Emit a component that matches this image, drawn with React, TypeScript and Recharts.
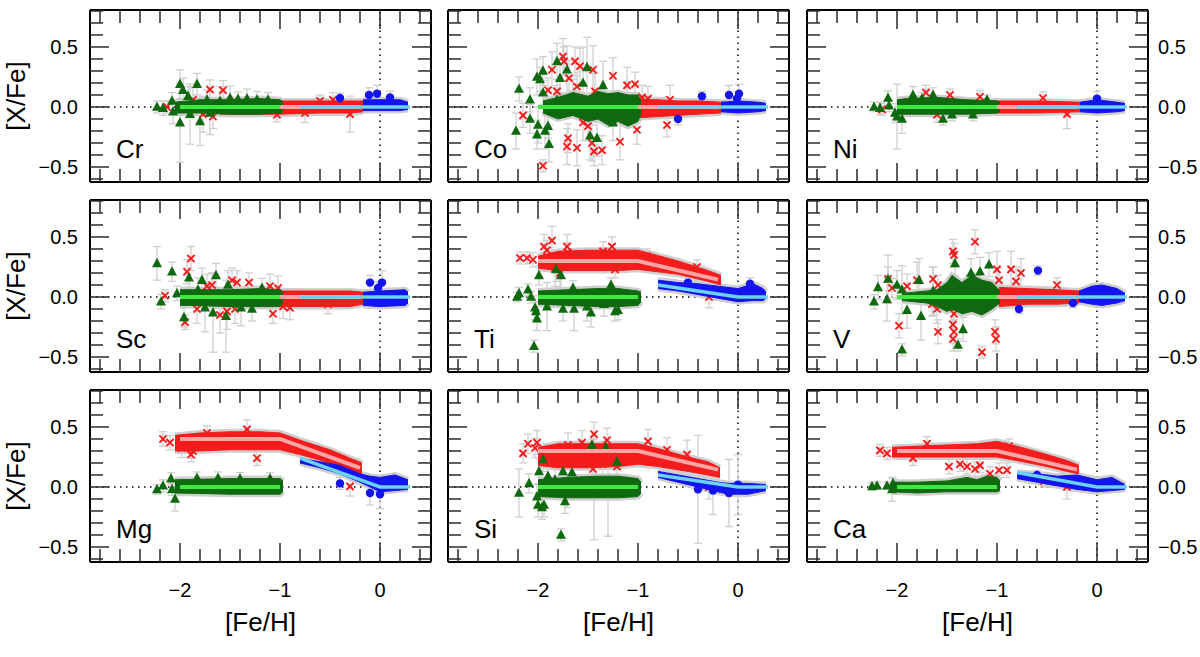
import React from "react";
import { ComposedChart, XAxis, YAxis, Scatter, Area, Line, ReferenceLine, ErrorBar } from "recharts";

// [Fe/H], [X/Fe], error
type Pt = [number, number, number];
// [Fe/H], low, high of the dense run of points
type Band = [number, number, number];
type Seg = [number, number];

const xTicks = [-2.8, -2.6, -2.4, -2.2, -2.0, -1.8, -1.6, -1.4, -1.2, -1.0, -0.8, -0.6, -0.4, -0.2, 0, 0.2, 0.4];
const yTicks = [-0.6, -0.5, -0.4, -0.3, -0.2, -0.1, 0, 0.1, 0.2, 0.3, 0.4, 0.5, 0.6, 0.7, 0.8];

// model lines
const flatG: Seg[] = [[-2, 0], [-1, 0]];
const flatR: Seg[] = [[-1, 0], [-0.2, 0]];
const flatB: Seg[] = [[-0.8, 0], [0.3, 0]];
const tiLineR: Seg[] = [[-2, 0.3], [-1, 0.3], [-0.2, 0.145]];
const tiLineB: Seg[] = [[-0.8, 0.1], [0, 0], [0.3, 0]];
const mgLineR: Seg[] = [[-2, 0.4], [-1, 0.4], [-0.2, 0.16]];
const mgLineB: Seg[] = [[-0.8, 0.24], [0, 0], [0.3, 0]];
const siLineR: Seg[] = [[-2, 0.3], [-1, 0.3], [-0.2, 0.145]];
const siLineB: Seg[] = [[-0.8, 0.1], [0, 0], [0.3, 0]];
const caLineR: Seg[] = [[-2, 0.3], [-1, 0.3], [-0.2, 0.145]];
const caLineB: Seg[] = [[-0.8, 0.12], [0, 0], [0.3, 0]];

// Cr
const crGreen: Pt[] = [[-2.23, 0.0, 0.05], [-2.17, -0.01, 0.06], [-2.08, 0.05, 0.07], [-2.07, -0.04, 0.1], [-2.0, 0.19, 0.12], [-1.97, 0.14, 0.1], [-1.92, 0.09, 0.08], [-1.83, 0.19, 0.09], [-1.73, 0.06, 0.08], [-2.0, -0.13, 0.33], [-1.8, -0.12, 0.2], [-1.5, 0.075, 0.1], [-1.33, 0.07, 0.08], [-1.23, 0.06, 0.07], [-1.9, -0.06, 0.25], [-1.7, -0.05, 0.18], [-1.6, 0.05, 0.12], [-1.42, 0.065, 0.06], [-1.12, 0.06, 0.06]];
const crGreenBand: Band[] = [[-2.05, -0.05, 0.04], [-1.8, -0.05, 0.06], [-1.5, -0.06, 0.06], [-1.2, -0.06, 0.07], [-1.0, -0.05, 0.06], [-0.97, -0.04, 0.04]];
const crRed: Pt[] = [[-2.13, 0.0, 0.05], [-1.87, 0.06, 0.1], [-1.77, -0.06, 0.15], [-1.7, 0.145, 0.08], [-1.67, -0.08, 0.1], [-1.57, 0.14, 0.08], [-1.03, -0.065, 0.06], [-0.47, 0.06, 0.06], [-0.3, -0.06, 0.15], [-0.75, -0.05, 0.08], [-0.6, 0.05, 0.05]];
const crRedBand: Band[] = [[-1.6, -0.06, 0.05], [-1.0, -0.06, 0.05], [-0.6, -0.05, 0.05], [-0.3, -0.05, 0.05], [-0.17, -0.04, 0.05]];
const crBlue: Pt[] = [[-0.4, 0.075, 0.04], [-0.11, 0.1, 0.06], [-0.03, 0.11, 0.07], [0.1, 0.08, 0.05]];
const crBlueBand: Band[] = [[-0.17, -0.03, 0.06], [0.0, -0.03, 0.06], [0.2, -0.03, 0.06], [0.28, -0.02, 0.04]];

// Co
const coGreen: Pt[] = [[-2.19, 0.15, 0.1], [-2.22, -0.2, 0.15], [-2.08, 0.06, 0.1], [-2.01, 0.25, 0.15], [-1.95, 0.3, 0.12], [-1.81, 0.38, 0.15], [-1.71, 0.31, 0.2], [-1.78, 0.24, 0.12], [-1.98, 0.23, 0.1], [-1.95, 0.12, 0.1], [-2.08, -0.1, 0.12], [-2.0, -0.15, 0.15], [-2.01, -0.23, 0.12], [-1.93, -0.2, 0.15], [-1.9, -0.16, 0.1], [-1.89, -0.31, 0.15], [-1.65, 0.08, 0.15], [-1.55, 0.2, 0.3], [-1.51, 0.33, 0.25], [-1.35, 0.18, 0.2], [-1.48, -0.24, 0.2], [-1.41, -0.26, 0.15], [-1.25, -0.13, 0.15], [-1.81, 0.06, 0.12], [-1.11, 0.06, 0.15]];
const coGreenBand: Band[] = [[-1.95, -0.05, 0.05], [-1.8, -0.1, 0.08], [-1.65, -0.07, 0.12], [-1.5, -0.12, 0.09], [-1.4, -0.1, 0.13], [-1.3, -0.15, 0.11], [-1.2, -0.12, 0.12], [-1.1, -0.16, 0.1], [-1.0, -0.12, 0.1], [-0.97, -0.06, 0.05]];
const coRed: Pt[] = [[-2.15, -0.07, 0.1], [-1.95, -0.49, 0.05], [-1.86, 0.31, 0.15], [-1.75, 0.42, 0.15], [-1.74, 0.38, 0.12], [-1.63, 0.38, 0.12], [-1.58, 0.34, 0.15], [-1.45, 0.31, 0.2], [-1.69, 0.24, 0.15], [-1.61, 0.17, 0.12], [-1.9, 0.14, 0.1], [-1.81, 0.13, 0.1], [-1.25, 0.26, 0.15], [-1.11, 0.18, 0.15], [-1.03, 0.19, 0.1], [-1.71, -0.33, 0.15], [-1.61, -0.34, 0.15], [-1.7, -0.26, 0.12], [-1.55, -0.13, 0.15], [-1.5, -0.16, 0.12], [-1.46, -0.3, 0.15], [-1.44, -0.37, 0.12], [-1.36, -0.36, 0.12], [-1.18, -0.29, 0.15], [-1.01, -0.19, 0.12], [-0.96, 0.08, 0.1], [-0.9, 0.07, 0.1], [-0.71, -0.15, 0.1], [-0.68, 0.06, 0.12], [-1.43, 0.13, 0.15]];
const coRedBand: Band[] = [[-1.0, -0.09, 0.06], [-0.8, -0.08, 0.06], [-0.6, -0.07, 0.05], [-0.4, -0.06, 0.05], [-0.17, -0.05, 0.04]];
const coBlue: Pt[] = [[-0.6, -0.1, 0.05], [-0.36, 0.09, 0.04], [-0.09, 0.1, 0.08], [0.01, 0.11, 0.08], [-0.01, 0.07, 0.06]];
const coBlueBand: Band[] = [[-0.17, -0.04, 0.04], [0.0, -0.05, 0.05], [0.2, -0.04, 0.04], [0.28, -0.03, 0.03]];

// Ni
const niGreen: Pt[] = [[-2.23, 0.0, 0.04], [-2.17, -0.01, 0.05], [-2.09, 0.075, 0.06], [-2.08, 0.01, 0.05], [-2.02, -0.05, 0.08], [-2.0, -0.08, 0.27], [-1.84, 0.1, 0.07], [-1.64, 0.1, 0.06], [-1.54, -0.1, 0.05], [-1.45, -0.065, 0.05], [-1.24, -0.065, 0.05], [-1.1, 0.06, 0.04], [-1.95, -0.1, 0.12], [-1.75, 0.07, 0.05]];
const niGreenBand: Band[] = [[-2.0, -0.06, 0.06], [-1.9, -0.06, 0.07], [-1.6, -0.06, 0.08], [-1.3, -0.06, 0.06], [-1.0, -0.05, 0.05], [-0.97, -0.04, 0.04]];
const niRed: Pt[] = [[-2.15, -0.02, 0.05], [-1.71, 0.12, 0.06], [-1.6, -0.065, 0.06], [-1.47, 0.1, 0.05], [-1.17, 0.085, 0.05], [-0.54, 0.075, 0.05], [-0.3, -0.06, 0.12]];
const niRedBand: Band[] = [[-1.7, -0.05, 0.05], [-1.0, -0.05, 0.05], [-0.6, -0.05, 0.05], [-0.17, -0.04, 0.04]];
const niBlue: Pt[] = [[0.0, 0.07, 0.06]];
const niBlueBand: Band[] = [[-0.17, -0.04, 0.04], [0.0, -0.05, 0.06], [0.2, -0.04, 0.04], [0.28, -0.03, 0.03]];

// Sc
const scGreen: Pt[] = [[-2.23, 0.28, 0.14], [-2.19, -0.04, 0.06], [-2.08, 0.21, 0.08], [-2.03, 0.03, 0.06], [-1.96, -0.17, 0.08], [-1.91, 0.16, 0.08], [-1.78, 0.14, 0.1], [-1.64, 0.18, 0.1], [-1.75, -0.09, 0.2], [-1.67, -0.13, 0.33], [-1.54, -0.16, 0.3], [-1.39, -0.09, 0.15], [-1.28, -0.1, 0.1], [-1.52, 0.1, 0.12], [-1.18, 0.075, 0.08], [-1.82, 0.06, 0.1]];
const scGreenBand: Band[] = [[-2.0, -0.07, 0.06], [-1.9, -0.07, 0.06], [-1.5, -0.08, 0.06], [-1.2, -0.08, 0.07], [-1.0, -0.08, 0.06], [-0.97, -0.05, 0.04]];
const scRed: Pt[] = [[-2.15, 0.01, 0.05], [-1.89, 0.32, 0.1], [-1.93, 0.21, 0.1], [-1.95, -0.21, 0.06], [-1.83, -0.1, 0.12], [-1.73, 0.09, 0.1], [-1.68, 0.1, 0.1], [-1.48, 0.14, 0.1], [-1.43, 0.12, 0.1], [-1.31, 0.12, 0.08], [-1.6, -0.15, 0.15], [-1.53, -0.12, 0.15], [-1.45, -0.1, 0.12], [-1.07, -0.14, 0.08], [-0.97, -0.08, 0.1], [-0.9, -0.09, 0.1], [-1.1, 0.09, 0.1], [-1.02, 0.075, 0.1], [-0.52, -0.06, 0.08]];
const scRedBand: Band[] = [[-1.0, -0.08, 0.05], [-0.6, -0.08, 0.05], [-0.3, -0.08, 0.05], [-0.17, -0.06, 0.04]];
const scBlue: Pt[] = [[-0.1, 0.12, 0.06], [0.02, 0.12, 0.1], [-0.02, 0.075, 0.05]];
const scBlueBand: Band[] = [[-0.17, -0.07, 0.04], [0.0, -0.08, 0.05], [0.25, -0.07, 0.06], [0.28, -0.05, 0.04]];

// Ti
const tiGreen: Pt[] = [[-2.21, 0.0, 0.04], [-2.19, 0.03, 0.05], [-2.1, 0.06, 0.05], [-2.07, 0.0, 0.05], [-1.99, 0.18, 0.08], [-2.03, -0.09, 0.1], [-2.01, -0.18, 0.1], [-2.02, -0.12, 0.08], [-2.04, -0.41, 0.05], [-1.82, 0.23, 0.1], [-1.77, 0.18, 0.12], [-1.91, -0.08, 0.2], [-1.75, -0.1, 0.1], [-1.64, -0.1, 0.18], [-1.51, -0.08, 0.12], [-1.47, -0.13, 0.12], [-1.34, -0.06, 0.1], [-1.23, -0.12, 0.08], [-1.2, -0.11, 0.08], [-1.27, 0.1, 0.06], [-1.65, 0.075, 0.06]];
const tiGreenBand: Band[] = [[-2.0, -0.06, 0.05], [-1.7, -0.07, 0.06], [-1.4, -0.08, 0.07], [-1.2, -0.08, 0.07], [-1.0, -0.07, 0.05], [-0.97, -0.04, 0.04]];
const tiRed: Pt[] = [[-2.18, 0.325, 0.05], [-2.11, 0.325, 0.05], [-2.05, 0.31, 0.06], [-1.94, 0.42, 0.1], [-1.86, 0.47, 0.12], [-1.91, 0.39, 0.08], [-1.71, 0.42, 0.1], [-1.7, 0.37, 0.08], [-1.35, 0.38, 0.08], [-1.26, 0.42, 0.08], [-1.83, 0.24, 0.15], [-1.78, 0.2, 0.12], [-1.23, 0.23, 0.07], [-0.91, 0.34, 0.06], [-0.41, 0.25, 0.06], [-0.29, 0.0, 0.09]];
const tiRedBand: Band[] = [[-2.0, 0.24, 0.34], [-1.8, 0.22, 0.38], [-1.5, 0.22, 0.39], [-1.2, 0.22, 0.39], [-1.0, 0.23, 0.39], [-0.6, 0.19, 0.3], [-0.3, 0.13, 0.22], [-0.17, 0.1, 0.18]];
const tiBlue: Pt[] = [[-0.5, 0.12, 0.04], [0.12, 0.11, 0.05]];
const tiBlueBand: Band[] = [[-0.8, 0.07, 0.14], [-0.6, 0.05, 0.12], [-0.4, 0.02, 0.11], [-0.2, -0.01, 0.09], [0.0, -0.04, 0.07], [0.15, -0.03, 0.11], [0.25, -0.03, 0.07], [0.28, -0.01, 0.04]];

// V
const vGreen: Pt[] = [[-2.23, -0.04, 0.06], [-2.19, 0.08, 0.1], [-2.09, 0.15, 0.2], [-2.1, -0.02, 0.18], [-2.0, 0.1, 0.12], [-1.95, 0.06, 0.2], [-1.95, -0.44, 0.05], [-1.9, -0.11, 0.15], [-1.78, 0.14, 0.18], [-1.76, -0.16, 0.2], [-1.64, 0.05, 0.2], [-1.42, 0.28, 0.1], [-1.34, -0.27, 0.1], [-1.39, -0.4, 0.05], [-1.26, 0.2, 0.12], [-1.17, 0.21, 0.12], [-1.08, 0.27, 0.1], [-1.45, -0.08, 0.12]];
const vGreenBand: Band[] = [[-1.95, -0.03, 0.03], [-1.7, -0.05, 0.05], [-1.6, -0.08, 0.06], [-1.5, -0.12, 0.12], [-1.45, -0.1, 0.18], [-1.35, -0.14, 0.12], [-1.25, -0.12, 0.18], [-1.15, -0.15, 0.14], [-1.05, -0.1, 0.12], [-0.97, -0.05, 0.05]];
const vRed: Pt[] = [[-2.09, 0.15, 0.1], [-2.05, 0.075, 0.08], [-1.98, -0.24, 0.1], [-1.9, 0.09, 0.1], [-1.8, 0.14, 0.15], [-1.64, 0.15, 0.1], [-1.59, 0.1, 0.08], [-1.59, -0.29, 0.1], [-1.44, 0.38, 0.1], [-1.43, 0.35, 0.1], [-1.22, 0.46, 0.1], [-1.44, -0.23, 0.1], [-1.43, -0.29, 0.1], [-1.44, -0.35, 0.1], [-1.43, -0.14, 0.12], [-1.15, -0.46, 0.05], [-1.02, -0.29, 0.1], [-1.01, -0.35, 0.1], [-1.0, 0.23, 0.15], [-0.86, 0.23, 0.15], [-0.76, 0.2, 0.12], [-0.81, 0.13, 0.12], [-0.98, 0.14, 0.1], [-0.4, 0.1, 0.06], [-1.6, -0.1, 0.12], [-1.65, -0.06, 0.1]];
const vRedBand: Band[] = [[-0.98, -0.08, 0.08], [-0.7, -0.06, 0.07], [-0.4, -0.06, 0.06], [-0.18, -0.05, 0.05]];
const vBlue: Pt[] = [[-0.78, -0.1, 0.04], [-0.59, 0.22, 0.04], [-0.24, -0.05, 0.04]];
const vBlueBand: Band[] = [[-0.18, -0.04, 0.05], [-0.05, -0.06, 0.09], [0.05, -0.07, 0.1], [0.2, -0.05, 0.07], [0.28, -0.03, 0.03]];

// Mg
const mgGreen: Pt[] = [[-2.23, -0.02, 0.04], [-2.17, 0.01, 0.05], [-2.09, 0.07, 0.05], [-2.05, -0.1, 0.1], [-2.08, -0.02, 0.05], [-1.83, 0.075, 0.05], [-1.62, 0.075, 0.05], [-1.4, 0.07, 0.05], [-1.1, 0.07, 0.05]];
const mgGreenBand: Band[] = [[-2.05, -0.05, 0.06], [-1.5, -0.06, 0.07], [-1.0, -0.06, 0.07], [-0.97, -0.04, 0.05]];
const mgRed: Pt[] = [[-2.17, 0.4, 0.06], [-2.1, 0.37, 0.06], [-1.98, 0.325, 0.08], [-1.87, 0.3, 0.06], [-1.89, 0.27, 0.06], [-1.33, 0.48, 0.08], [-1.23, 0.24, 0.06], [-0.3, 0.005, 0.08], [-1.73, 0.45, 0.06]];
const mgRedBand: Band[] = [[-2.05, 0.3, 0.43], [-1.8, 0.3, 0.45], [-1.5, 0.31, 0.46], [-1.2, 0.31, 0.46], [-1.0, 0.31, 0.45], [-0.8, 0.27, 0.39], [-0.5, 0.2, 0.31], [-0.3, 0.15, 0.24], [-0.18, 0.1, 0.2]];
const mgBlue: Pt[] = [[-0.4, 0.03, 0.05], [-0.1, -0.05, 0.1], [0.0, -0.06, 0.12]];
const mgBlueBand: Band[] = [[-0.8, 0.2, 0.24], [-0.6, 0.16, 0.21], [-0.4, 0.11, 0.18], [-0.2, 0.04, 0.11], [-0.1, 0.0, 0.09], [0.0, -0.04, 0.08], [0.15, -0.03, 0.1], [0.28, -0.02, 0.06]];

// Si
const siGreen: Pt[] = [[-2.19, -0.05, 0.2], [-2.09, 0.03, 0.08], [-1.99, 0.13, 0.1], [-1.95, 0.23, 0.1], [-1.9, 0.09, 0.1], [-1.83, 0.06, 0.15], [-1.75, 0.13, 0.12], [-1.66, 0.12, 0.15], [-2.01, -0.08, 0.1], [-2.0, -0.15, 0.1], [-1.96, -0.17, 0.1], [-1.94, -0.15, 0.1], [-1.73, -0.12, 0.1], [-1.77, -0.4, 0.05], [-1.46, 0.35, 0.05], [-1.32, 0.33, 0.05], [-1.21, 0.21, 0.05], [-1.71, -0.05, 0.12], [-1.44, -0.02, 0.42], [-1.3, -0.05, 0.36]];
const siGreenBand: Band[] = [[-2.0, -0.08, 0.06], [-1.7, -0.09, 0.08], [-1.4, -0.09, 0.09], [-1.2, -0.09, 0.09], [-1.0, -0.08, 0.07], [-0.97, -0.05, 0.04]];
const siRed: Pt[] = [[-2.15, 0.28, 0.08], [-2.1, 0.36, 0.08], [-2.01, 0.37, 0.1], [-2.03, 0.325, 0.08], [-1.7, 0.35, 0.1], [-1.56, 0.37, 0.1], [-1.44, 0.44, 0.1], [-1.31, 0.39, 0.1], [-1.35, 0.19, 0.1], [-0.9, 0.38, 0.1], [-0.71, 0.31, 0.1], [-0.51, 0.27, 0.12], [-0.29, 0.0, 0.1], [-1.45, 0.15, 0.1], [-1.21, 0.17, 0.1]];
const siRedBand: Band[] = [[-2.0, 0.18, 0.33], [-1.8, 0.16, 0.36], [-1.5, 0.16, 0.36], [-1.2, 0.17, 0.36], [-1.0, 0.19, 0.36], [-0.8, 0.17, 0.32], [-0.5, 0.13, 0.25], [-0.3, 0.1, 0.21], [-0.18, 0.08, 0.16]];
const siBlue: Pt[] = [[-0.4, -0.02, 0.45], [-0.09, -0.05, 0.28], [-0.25, -0.03, 0.2], [0.0, 0.02, 0.25]];
const siBlueBand: Band[] = [[-0.8, 0.08, 0.13], [-0.6, 0.04, 0.1], [-0.4, 0.0, 0.07], [-0.2, -0.04, 0.04], [-0.1, -0.06, 0.03], [0.1, -0.06, 0.03], [0.28, -0.03, 0.02]];

// Ca
const caGreen: Pt[] = [[-2.25, 0.005, 0.03], [-2.2, 0.01, 0.03], [-2.1, 0.01, 0.03], [-2.05, -0.02, 0.1], [-2.04, 0.03, 0.04]];
const caGreenBand: Band[] = [[-2.05, -0.04, 0.04], [-1.8, -0.05, 0.04], [-1.5, -0.04, 0.05], [-1.3, -0.04, 0.08], [-1.2, -0.04, 0.06], [-1.1, -0.04, 0.09], [-1.0, -0.04, 0.08], [-0.97, -0.03, 0.05]];
const caRed: Pt[] = [[-2.17, 0.305, 0.05], [-2.1, 0.28, 0.05], [-1.7, 0.36, 0.06], [-1.48, 0.17, 0.06], [-1.37, 0.19, 0.06], [-1.3, 0.17, 0.06], [-1.22, 0.15, 0.06], [-1.17, 0.18, 0.06], [-1.07, 0.11, 0.06], [-0.98, 0.14, 0.06], [-0.9, 0.14, 0.06], [-0.88, 0.34, 0.06], [-0.53, 0.05, 0.05], [-0.3, 0.0, 0.1], [-1.84, 0.24, 0.06]];
const caRedBand: Band[] = [[-2.05, 0.25, 0.33], [-1.8, 0.25, 0.34], [-1.5, 0.25, 0.35], [-1.2, 0.25, 0.36], [-1.0, 0.25, 0.38], [-0.8, 0.22, 0.34], [-0.5, 0.17, 0.27], [-0.3, 0.13, 0.22], [-0.18, 0.11, 0.18]];
const caBlue: Pt[] = [[-0.6, 0.1, 0.04], [-0.45, 0.05, 0.05]];
const caBlueBand: Band[] = [[-0.8, 0.07, 0.12], [-0.6, 0.04, 0.11], [-0.4, 0.01, 0.09], [-0.2, -0.02, 0.1], [0.0, -0.04, 0.06], [0.15, -0.03, 0.08], [0.28, -0.02, 0.02]];

type PanelData = {
  name: string;
  green: Pt[]; greenBand: Band[];
  red: Pt[]; redBand: Band[];
  blue: Pt[]; blueBand: Band[];
  lineG: Seg[]; lineR: Seg[]; lineB: Seg[];
};

// row by row: Cr Co Ni / Sc Ti V / Mg Si Ca
const panels: PanelData[] = [
  { name: "Cr", green: crGreen, greenBand: crGreenBand, red: crRed, redBand: crRedBand, blue: crBlue, blueBand: crBlueBand, lineG: flatG, lineR: flatR, lineB: flatB },
  { name: "Co", green: coGreen, greenBand: coGreenBand, red: coRed, redBand: coRedBand, blue: coBlue, blueBand: coBlueBand, lineG: flatG, lineR: flatR, lineB: flatB },
  { name: "Ni", green: niGreen, greenBand: niGreenBand, red: niRed, redBand: niRedBand, blue: niBlue, blueBand: niBlueBand, lineG: flatG, lineR: flatR, lineB: flatB },
  { name: "Sc", green: scGreen, greenBand: scGreenBand, red: scRed, redBand: scRedBand, blue: scBlue, blueBand: scBlueBand, lineG: flatG, lineR: flatR, lineB: flatB },
  { name: "Ti", green: tiGreen, greenBand: tiGreenBand, red: tiRed, redBand: tiRedBand, blue: tiBlue, blueBand: tiBlueBand, lineG: flatG, lineR: tiLineR, lineB: tiLineB },
  { name: "V", green: vGreen, greenBand: vGreenBand, red: vRed, redBand: vRedBand, blue: vBlue, blueBand: vBlueBand, lineG: flatG, lineR: flatR, lineB: flatB },
  { name: "Mg", green: mgGreen, greenBand: mgGreenBand, red: mgRed, redBand: mgRedBand, blue: mgBlue, blueBand: mgBlueBand, lineG: flatG, lineR: mgLineR, lineB: mgLineB },
  { name: "Si", green: siGreen, greenBand: siGreenBand, red: siRed, redBand: siRedBand, blue: siBlue, blueBand: siBlueBand, lineG: flatG, lineR: siLineR, lineB: siLineB },
  { name: "Ca", green: caGreen, greenBand: caGreenBand, red: caRed, redBand: caRedBand, blue: caBlue, blueBand: caBlueBand, lineG: flatG, lineR: caLineR, lineB: caLineB },
];

const FONT = "'Liberation Sans', Arial, Helvetica, sans-serif";
const GREEN = "#0f6a0f";
const RED = "#f41c1c";
const BLUE = "#1414ee";
const GRAY = "#cfcfcf";
const LINE_G = "#3fe83f";
const LINE_R = "#ffa4a4";
const LINE_B = "#6ad2f2";

const COL_LEFT = [90, 448, 807];
const ROW_TOP = [10, 200, 390];
const PW = 341;
const PH = 172;
// outer space round each plot; the axes themselves take 1px each
const ML = 70, MR = 70, MT = 10, MB = 50;
const X_DOMAIN: [number, number] = [-2.9, 0.51];
const Y_DOMAIN: [number, number] = [-0.625, 0.808];

const toPts = (a: Pt[]) => a.map(([x, y, e]) => ({ x, y, e }));
const toBand = (a: Band[]) => a.map(([x, lo, hi]) => ({ x, r: [lo, hi] }));
const toLine = (a: Seg[]) => a.map(([x, y]) => ({ x, y }));

const minus = (v: number, digits: number) => (v < 0 ? "\u2212" : "") + Math.abs(v).toFixed(digits);

function xTick(side: "top" | "bottom", labels: boolean) {
  return (p: any) => {
    const v = p.payload.value;
    const major = Math.abs(v - Math.round(v)) < 1e-6;
    const len = major ? 19 : 13;
    const dir = side === "bottom" ? -1 : 1;
    return (
      <g>
        <line x1={p.x} x2={p.x} y1={p.y} y2={p.y + dir * len} stroke="#2a2a2a" strokeWidth={1.5} />
        {labels && major && (
          <text x={p.x} y={p.y + 35} textAnchor="middle" fontSize={20} fontFamily={FONT} fill="#000">
            {minus(v, 0)}
          </text>
        )}
      </g>
    );
  };
}

function yTick(side: "left" | "right", labels: boolean) {
  return (p: any) => {
    const v = p.payload.value;
    const major = Math.abs(v * 2 - Math.round(v * 2)) < 1e-6;
    const len = major ? 19 : 13;
    const dir = side === "left" ? 1 : -1;
    return (
      <g>
        <line x1={p.x} x2={p.x + dir * len} y1={p.y} y2={p.y} stroke="#2a2a2a" strokeWidth={1.5} />
        {labels && major && (
          <text
            x={side === "left" ? p.x - 12 : p.x + 10}
            y={p.y + 7}
            textAnchor={side === "left" ? "end" : "start"}
            fontSize={20}
            fontFamily={FONT}
            fill="#000"
          >
            {minus(v, 1)}
          </text>
        )}
      </g>
    );
  };
}

const Tri = (p: any) => (
  <polygon points={`${p.cx},${p.cy - 5.6} ${p.cx - 5},${p.cy + 3.8} ${p.cx + 5},${p.cy + 3.8}`} fill={GREEN} />
);
const Cross = (p: any) => (
  <g stroke={RED} strokeWidth={1.9}>
    <line x1={p.cx - 3.6} y1={p.cy - 3.6} x2={p.cx + 3.6} y2={p.cy + 3.6} />
    <line x1={p.cx - 3.6} y1={p.cy + 3.6} x2={p.cx + 3.6} y2={p.cy - 3.6} />
  </g>
);
const Dot = (p: any) => <circle cx={p.cx} cy={p.cy} r={4.2} fill={BLUE} />;
const Nothing = () => <g />;

const frame = { stroke: "#000", strokeWidth: 2 };

function Panel({ d, col, row }: { d: PanelData; col: number; row: number }) {
  const ax = { xAxisId: "b", yAxisId: "l" };
  const allPts = toPts([...d.red, ...d.green, ...d.blue]);
  const halos = [d.redBand, d.greenBand, d.blueBand];
  return (
    <div style={{ position: "absolute", left: COL_LEFT[col] - ML, top: ROW_TOP[row] - MT }}>
      <ComposedChart width={PW + ML + MR} height={PH + MT + MB} margin={{ top: MT - 1, right: MR - 1, bottom: MB - 1, left: ML - 1 }}>
        <XAxis xAxisId="b" dataKey="x" type="number" orientation="bottom" domain={X_DOMAIN} allowDataOverflow ticks={xTicks} interval={0}
          height={1} tickSize={0} tickMargin={0} tickLine={false} axisLine={frame} tick={xTick("bottom", row === 2)} />
        <XAxis xAxisId="t" dataKey="x" type="number" orientation="top" domain={X_DOMAIN} allowDataOverflow ticks={xTicks} interval={0}
          height={1} tickSize={0} tickMargin={0} tickLine={false} axisLine={frame} tick={xTick("top", false)} />
        <YAxis yAxisId="l" dataKey="y" type="number" orientation="left" domain={Y_DOMAIN} allowDataOverflow ticks={yTicks} interval={0}
          width={1} tickSize={0} tickMargin={0} tickLine={false} axisLine={frame} tick={yTick("left", col === 0)} />
        <YAxis yAxisId="r" dataKey="y" type="number" orientation="right" domain={Y_DOMAIN} allowDataOverflow ticks={yTicks} interval={0}
          width={1} tickSize={0} tickMargin={0} tickLine={false} axisLine={frame} tick={yTick("right", col === 2)} />

        <ReferenceLine {...ax} y={0} stroke="#000" strokeWidth={1.5} strokeDasharray="1.5 4.5" zIndex={1} />
        <ReferenceLine {...ax} x={0} stroke="#000" strokeWidth={1.5} strokeDasharray="1.5 4.5" zIndex={1} />

        {halos.map((b, i) => (
          <Area key={"halo" + i} {...ax} data={toBand(b)} dataKey="r" type="linear" stroke={GRAY} strokeWidth={6}
            fill={GRAY} fillOpacity={1} dot={false} activeDot={false} isAnimationActive={false} zIndex={2} />
        ))}
        <Scatter {...ax} data={allPts} shape={Nothing} isAnimationActive={false} zIndex={3}>
          <ErrorBar dataKey="e" direction="y" width={4} stroke={GRAY} strokeWidth={1.3} isAnimationActive={false} zIndex={3} />
        </Scatter>

        <Area {...ax} data={toBand(d.redBand)} dataKey="r" type="linear" stroke={RED} strokeWidth={1} fill={RED} fillOpacity={1}
          dot={false} activeDot={false} isAnimationActive={false} zIndex={4} />
        <Scatter {...ax} data={toPts(d.red)} shape={Cross} isAnimationActive={false} zIndex={5} />
        <Area {...ax} data={toBand(d.greenBand)} dataKey="r" type="linear" stroke={GREEN} strokeWidth={1} fill={GREEN} fillOpacity={1}
          dot={false} activeDot={false} isAnimationActive={false} zIndex={6} />
        <Scatter {...ax} data={toPts(d.green)} shape={Tri} isAnimationActive={false} zIndex={7} />
        <Area {...ax} data={toBand(d.blueBand)} dataKey="r" type="linear" stroke={BLUE} strokeWidth={1} fill={BLUE} fillOpacity={1}
          dot={false} activeDot={false} isAnimationActive={false} zIndex={8} />
        <Scatter {...ax} data={toPts(d.blue)} shape={Dot} isAnimationActive={false} zIndex={9} />

        <Line {...ax} data={toLine(d.lineG)} dataKey="y" type="linear" stroke={LINE_G} strokeWidth={4} dot={false} activeDot={false}
          isAnimationActive={false} zIndex={10} />
        <Line {...ax} data={toLine(d.lineR)} dataKey="y" type="linear" stroke={LINE_R} strokeWidth={4} dot={false} activeDot={false}
          isAnimationActive={false} zIndex={11} />
        <Line {...ax} data={toLine(d.lineB)} dataKey="y" type="linear" stroke={LINE_B} strokeWidth={3.5} dot={false} activeDot={false}
          isAnimationActive={false} zIndex={12} />
      </ComposedChart>
    </div>
  );
}

export default function App() {
  return (
    <div style={{ position: "absolute", left: 0, top: 0, width: 1200, height: 657, background: "#fff", fontFamily: FONT }}>
      {panels.map((d, i) => (
        <Panel key={d.name} d={d} col={i % 3} row={Math.floor(i / 3)} />
      ))}
      <svg width={1200} height={657} style={{ position: "absolute", left: 0, top: 0, pointerEvents: "none" }}>
        {ROW_TOP.map((t) => (
          <text key={"yl" + t} transform={`translate(25, ${t + PH / 2}) rotate(-90)`} textAnchor="middle" fontSize={26} fontFamily={FONT}>
            [X/Fe]
          </text>
        ))}
        {COL_LEFT.map((l) => (
          <text key={"xl" + l} x={l + PW / 2} y={631} textAnchor="middle" fontSize={26} fontFamily={FONT}>
            [Fe/H]
          </text>
        ))}
        {panels.map((d, i) => (
          <text key={"n" + d.name} x={COL_LEFT[i % 3] + 26} y={ROW_TOP[Math.floor(i / 3)] + PH - 24} fontSize={26} fontFamily={FONT}>
            {d.name}
          </text>
        ))}
      </svg>
    </div>
  );
}
